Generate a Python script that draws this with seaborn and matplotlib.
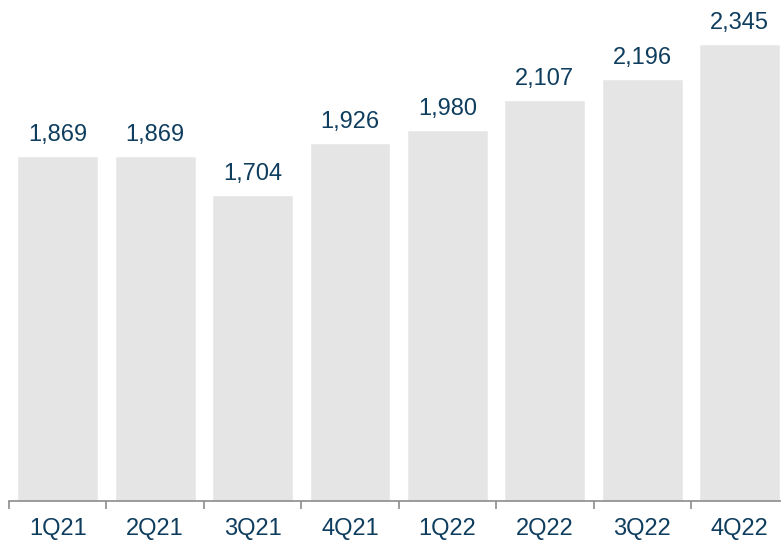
import numpy as np
import matplotlib
matplotlib.use("Agg")
import matplotlib.pyplot as plt
import seaborn as sns

quarters = ["1Q21", "2Q21", "3Q21", "4Q21", "1Q22", "2Q22", "3Q22", "4Q22"]
values = [1869, 1869, 1704, 1926, 1980, 2107, 2196, 2345]

sns.set_style("white")
plt.rcParams["font.family"] = ["Liberation Sans", "DejaVu Sans"]

text_color = "#0f3d5e"
axis_color = "#8c8c8c"

fig = plt.figure(figsize=(7.81, 5.40), dpi=100)
ax = fig.add_axes([9 / 781, 39 / 540, 779.4 / 781, 501 / 540])

sns.barplot(x=quarters, y=values, color="#e5e5e5", width=0.83,
            saturation=1, ax=ax)

ax.set_ylim(400, 2533)
ax.set_xlim(-0.5, len(quarters) - 0.5)

# value labels over bars
ax.bar_label(ax.containers[0], labels=[f"{v:,}" for v in values],
             padding=7, fontsize=17, color=text_color)

# bottom axis only
for side in ["top", "left", "right"]:
    ax.spines[side].set_visible(False)
ax.spines["bottom"].set_color(axis_color)
ax.spines["bottom"].set_linewidth(1.2)

ax.set_yticks([])
ax.set_xlabel("")
ax.set_ylabel("")
ax.tick_params(axis="x", which="major", bottom=True, length=0, pad=12,
               labelsize=17, labelcolor=text_color)
ax.set_xticks(np.arange(-0.5, len(quarters) + 0.5, 1), minor=True)
ax.tick_params(axis="x", which="minor", bottom=True, length=6, width=1.2,
               color=axis_color, direction="out")

fig.savefig("out.png", dpi=100)
